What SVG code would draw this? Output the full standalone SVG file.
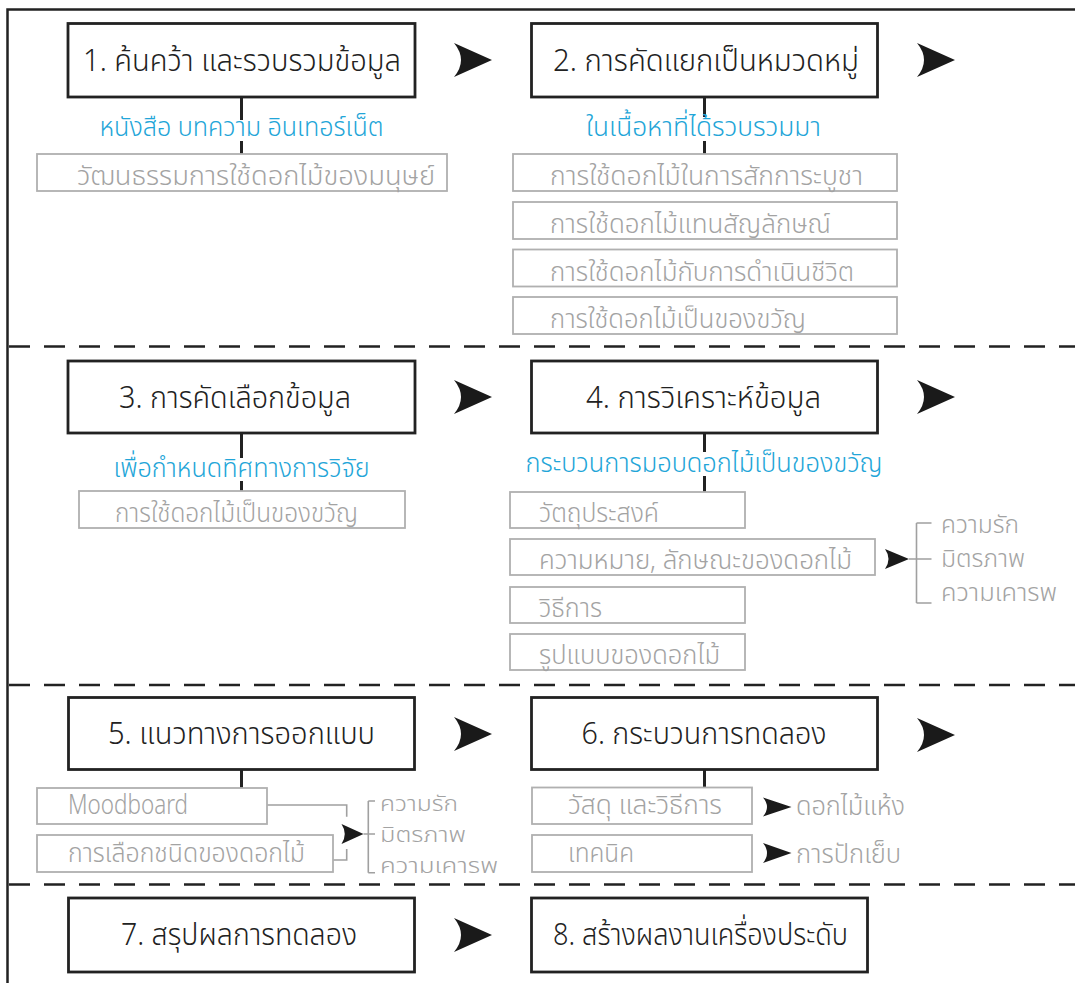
<svg xmlns="http://www.w3.org/2000/svg" xmlns:xlink="http://www.w3.org/1999/xlink" width="1075" height="983" viewBox="0 0 1075 983">
<style>
text{font-family:'Noto Sans Thai','Noto Sans Thai Looped','DejaVu Sans','Liberation Sans',sans-serif;font-weight:300;}
.frame{fill:none;stroke:#222;stroke-width:2.5;}
.dash{fill:none;stroke:#222;stroke-width:2.6;stroke-dasharray:21 14;}
.box{fill:#fff;stroke:#222;stroke-width:2.8;}
.gbox{fill:#fff;stroke:#b0b0b0;stroke-width:1.8;}
.conn{fill:none;stroke:#222;stroke-width:3;}
.gline{fill:none;stroke:#a0a0a0;stroke-width:1.6;}
.arrow{fill:#1a1a1a;}
.bt{font-size:31px;fill:#222;}
.blue{font-size:27px;fill:#22a5d8;}
.gt{font-size:27px;fill:#a3a3a3;}
.gs{font-size:24px;fill:#a3a3a3;}
.gs2{font-size:21px;fill:#a3a3a3;}
</style>
<rect width="1075" height="983" fill="#fff"/>
<g id="frame">
<path class="frame" d="M7.5,983 V9.5 H1075"/>
<path class="dash" d="M9,346.5 H1075"/>
<path class="dash" d="M9,685 H1075"/>
<path class="dash" d="M9,884.5 H1075"/>
</g>
<g id="connectors">
<path class="conn" d="M241.5,97 V120 M241.5,141 V154"/>
<path class="conn" d="M704.5,97 V117 M704.5,141 V154"/>
<path class="conn" d="M241.5,433 V458 M241.5,481 V491"/>
<path class="conn" d="M704.5,433 V452 M704.5,476 V492"/>
<path class="conn" d="M241.5,769 V788"/>
<path class="conn" d="M704.5,769 V787.5"/>
<path class="arrow" d="M454,43 L492,60 L454,77 Q468,60 454,43 Z"/>
<path class="arrow" d="M917,43 L955,60 L917,77 Q931,60 917,43 Z"/>
<path class="arrow" d="M454,380 L492,397 L454,414 Q468,397 454,380 Z"/>
<path class="arrow" d="M917,380 L955,397 L917,414 Q931,397 917,380 Z"/>
<path class="arrow" d="M454,717 L492,734 L454,751 Q468,734 454,717 Z"/>
<path class="arrow" d="M917,718 L955,735 L917,752 Q931,735 917,718 Z"/>
<path class="arrow" d="M454,918 L492,935 L454,952 Q468,935 454,918 Z"/>
<path class="arrow" d="M885,549 L909,559 L885,569 Q892,559 885,549 Z"/>
<path class="gline" d="M909,559 H931.5 M916.5,523 V603 M916.5,523 H931.5 M916.5,603 H931.5"/>
<path class="gline" d="M267,805 H346.7 V816.7 M333,860 H346.7 V849"/>
<path class="arrow" d="M341.5,824 L363.5,834 L341.5,844 Q348,834 341.5,824 Z"/>
<path class="gline" d="M363.5,834 H375 M368.3,801 V872.7 M368.3,801 H375 M368.3,872.7 H375"/>
<path class="arrow" d="M763,797.5 L791.5,807 L763,816.5 Q771,807 763,797.5 Z"/>
<path class="arrow" d="M763,843 L791.5,853 L763,863 Q771,853 763,843 Z"/>
</g>
<g id="n1">
<rect class="box" x="68" y="23.5" width="347" height="73.5"/>
<text class="bt" x="83" y="71" textLength="318" lengthAdjust="spacingAndGlyphs">1. ค้นคว้า และรวบรวมข้อมูล</text>
<text class="blue" x="99.5" y="136" textLength="284" lengthAdjust="spacingAndGlyphs">หนังสือ บทความ อินเทอร์เน็ต</text>
<rect class="gbox" x="37" y="154" width="410" height="37"/>
<text class="gt" x="77" y="185" textLength="358" lengthAdjust="spacingAndGlyphs">วัฒนธรรมการใช้ดอกไม้ของมนุษย์</text>
</g>
<g id="n2">
<rect class="box" x="531.5" y="23.5" width="346" height="73.5"/>
<text class="bt" x="553" y="71" textLength="306" lengthAdjust="spacingAndGlyphs">2. การคัดแยกเป็นหมวดหมู่</text>
<text class="blue" x="586" y="136" textLength="235" lengthAdjust="spacingAndGlyphs">ในเนื้อหาที่ได้รวบรวมมา</text>
<rect class="gbox" x="513" y="154" width="384" height="37"/>
<text class="gt" x="550" y="185" textLength="313" lengthAdjust="spacingAndGlyphs">การใช้ดอกไม้ในการสักการะบูชา</text>
<rect class="gbox" x="513" y="202" width="384" height="37"/>
<text class="gt" x="550" y="233" textLength="281" lengthAdjust="spacingAndGlyphs">การใช้ดอกไม้แทนสัญลักษณ์</text>
<rect class="gbox" x="513" y="249.5" width="384" height="37"/>
<text class="gt" x="550" y="280.5" textLength="304" lengthAdjust="spacingAndGlyphs">การใช้ดอกไม้กับการดำเนินชีวิต</text>
<rect class="gbox" x="513" y="297" width="384" height="37"/>
<text class="gt" x="550" y="328" textLength="256" lengthAdjust="spacingAndGlyphs">การใช้ดอกไม้เป็นของขวัญ</text>
</g>
<g id="n3">
<rect class="box" x="68" y="361" width="347" height="72"/>
<text class="bt" x="119" y="408" textLength="232" lengthAdjust="spacingAndGlyphs">3. การคัดเลือกข้อมูล</text>
<text class="blue" x="113.5" y="477" textLength="256" lengthAdjust="spacingAndGlyphs">เพื่อกำหนดทิศทางการวิจัย</text>
<rect class="gbox" x="79" y="491" width="326" height="37"/>
<text class="gt" x="115" y="522" textLength="243" lengthAdjust="spacingAndGlyphs">การใช้ดอกไม้เป็นของขวัญ</text>
</g>
<g id="n4">
<rect class="box" x="531.5" y="361" width="346" height="72"/>
<text class="bt" x="586" y="408" textLength="235" lengthAdjust="spacingAndGlyphs">4. การวิเคราะห์ข้อมูล</text>
<text class="blue" x="525.5" y="472" textLength="357" lengthAdjust="spacingAndGlyphs">กระบวนการมอบดอกไม้เป็นของขวัญ</text>
<rect class="gbox" x="510" y="492" width="235" height="36"/>
<text class="gt" x="539" y="522" textLength="120" lengthAdjust="spacingAndGlyphs">วัตถุประสงค์</text>
<rect class="gbox" x="510" y="539" width="365" height="36"/>
<text class="gt" x="539" y="569" textLength="313" lengthAdjust="spacingAndGlyphs">ความหมาย, ลักษณะของดอกไม้</text>
<rect class="gbox" x="510" y="587" width="235" height="36"/>
<text class="gt" x="539" y="617" textLength="63" lengthAdjust="spacingAndGlyphs">วิธีการ</text>
<rect class="gbox" x="510" y="634" width="235" height="36"/>
<text class="gt" x="539" y="664" textLength="181" lengthAdjust="spacingAndGlyphs">รูปแบบของดอกไม้</text>
<text class="gs" x="941" y="533" textLength="78" lengthAdjust="spacingAndGlyphs">ความรัก</text>
<text class="gs" x="941" y="567" textLength="84" lengthAdjust="spacingAndGlyphs">มิตรภาพ</text>
<text class="gs" x="941" y="601" textLength="116" lengthAdjust="spacingAndGlyphs">ความเคารพ</text>
</g>
<g id="n5">
<rect class="box" x="68.5" y="697.5" width="346" height="72"/>
<text class="bt" x="108" y="744" textLength="267" lengthAdjust="spacingAndGlyphs">5. แนวทางการออกแบบ</text>
<rect class="gbox" x="37" y="788" width="230" height="36"/>
<text class="gt" x="68" y="814" textLength="120" lengthAdjust="spacingAndGlyphs">Moodboard</text>
<rect class="gbox" x="37" y="835" width="296" height="37"/>
<text class="gt" x="68" y="862" textLength="237" lengthAdjust="spacingAndGlyphs">การเลือกชนิดของดอกไม้</text>
<text class="gs2" x="380" y="811" textLength="78" lengthAdjust="spacingAndGlyphs">ความรัก</text>
<text class="gs2" x="380" y="842" textLength="86" lengthAdjust="spacingAndGlyphs">มิตรภาพ</text>
<text class="gs2" x="380" y="873" textLength="118" lengthAdjust="spacingAndGlyphs">ความเคารพ</text>
</g>
<g id="n6">
<rect class="box" x="531.5" y="697.5" width="346" height="72"/>
<text class="bt" x="581.5" y="744" textLength="245" lengthAdjust="spacingAndGlyphs">6. กระบวนการทดลอง</text>
<rect class="gbox" x="532" y="787.5" width="220" height="36.5"/>
<text class="gt" x="568" y="814" textLength="154" lengthAdjust="spacingAndGlyphs">วัสดุ และวิธีการ</text>
<rect class="gbox" x="532" y="835" width="220" height="37"/>
<text class="gt" x="568" y="862" textLength="66" lengthAdjust="spacingAndGlyphs">เทคนิค</text>
<text class="gt" x="796" y="815" textLength="109" lengthAdjust="spacingAndGlyphs">ดอกไม้แห้ง</text>
<text class="gt" x="796" y="863" textLength="105" lengthAdjust="spacingAndGlyphs">การปักเย็บ</text>
</g>
<g id="n7">
<rect class="box" x="68.5" y="898" width="346" height="74"/>
<text class="bt" x="121" y="945" textLength="236" lengthAdjust="spacingAndGlyphs">7. สรุปผลการทดลอง</text>
</g>
<g id="n8">
<rect class="box" x="531.5" y="898" width="336" height="74"/>
<text class="bt" x="553" y="945" textLength="295" lengthAdjust="spacingAndGlyphs">8. สร้างผลงานเครื่องประดับ</text>
</g>
</svg>
